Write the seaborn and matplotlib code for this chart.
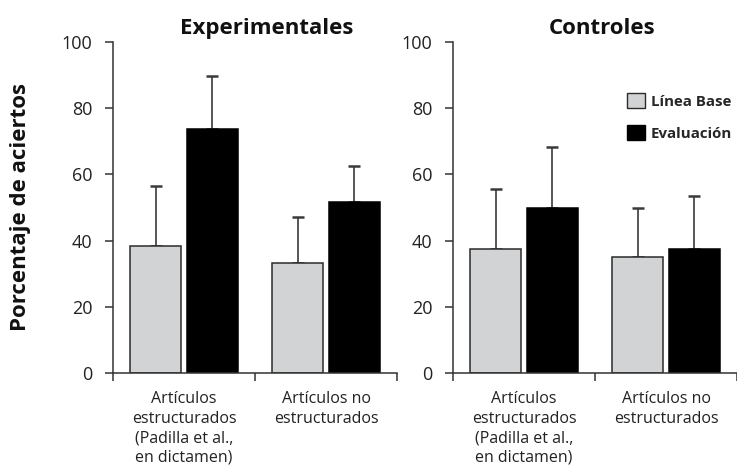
import matplotlib
matplotlib.use("Agg")
import matplotlib.pyplot as plt
from matplotlib.patches import Patch
import seaborn as sns
import pandas as pd

sns.set_style("ticks")
plt.rcParams['font.family'] = ['Open Sans', 'DejaVu Sans']

categories = ["Artículos\nestructurados\n(Padilla et al.,\nen dictamen)",
              "Artículos no\nestructurados"]
phases = ["Línea Base", "Evaluación"]
groups = ["Experimentales", "Controles"]

# means and upward error (SD) per category
exp_base = [38.5, 33.3]
exp_eval = [73.6, 51.7]
exp_base_err = [18.1, 13.8]
exp_eval_err = [16.0, 10.9]

ctl_base = [37.5, 35.0]
ctl_eval = [49.9, 37.5]
ctl_base_err = [18.2, 15.0]
ctl_eval_err = [18.3, 16.1]

yticks = [0, 20, 40, 60, 80, 100]

panels = {
    "Experimentales": (exp_base, exp_eval, exp_base_err, exp_eval_err),
    "Controles": (ctl_base, ctl_eval, ctl_base_err, ctl_eval_err),
}

colors = {"Línea Base": "#d2d3d5", "Evaluación": "#000000"}
edges = {"Línea Base": "#2b2b2b", "Evaluación": "#000000"}
spine_c = "#333333"

fig = plt.figure(figsize=(7.37, 4.75), dpi=100)
W, H = 737, 475
positions = [(113, 42, 284, 331), (453, 42, 284, 331)]
title_x = [0.542, 0.525]

for i, g in enumerate(groups):
    x0, y0, w, h = positions[i]
    ax = fig.add_axes([x0 / W, 1 - (y0 + h) / H, w / W, h / H])
    base, ev, be, ee = panels[g]
    df = pd.DataFrame({
        "cat": categories * 2,
        "phase": [phases[0]] * 2 + [phases[1]] * 2,
        "val": base + ev,
        "err": be + ee,
    })
    sns.barplot(data=df, x="cat", y="val", hue="phase", order=categories,
                hue_order=phases, palette=colors, gap=0.1, width=0.8,
                errorbar=None, ax=ax, legend=False, linewidth=1.1,
                edgecolor="black")
    bars = [p for p in ax.patches]
    for p, (_, row) in zip(bars, df.iterrows()):
        p.set_edgecolor(edges[row["phase"]])
        cx = p.get_x() + p.get_width() / 2
        ax.errorbar(cx, row["val"], yerr=[[0], [row["err"]]], fmt="none",
                    ecolor="#3a3a3a", elinewidth=1.2, capsize=4.4,
                    capthick=1.8, zorder=0)
    ax.set_xlim(-0.5, 1.5)
    ax.set_ylim(0, 100)
    ax.set_yticks(yticks)
    ax.set_xlabel("")
    ax.set_ylabel("")
    ax.set_xticks([0, 1])
    ax.set_xticklabels(categories, fontsize=11.5, linespacing=1.3)
    ax.set_xticks([-0.5, 0.5, 1.5], minor=True)
    ax.tick_params(axis="x", which="major", length=0, pad=13, colors="#222222")
    ax.tick_params(axis="x", which="minor", length=6, width=1.1, color=spine_c)
    ax.tick_params(axis="y", length=6, width=1.1, color=spine_c, pad=9,
                   labelsize=13, labelcolor="#222222")
    for s in ["top", "right"]:
        ax.spines[s].set_visible(False)
    for s in ["left", "bottom"]:
        ax.spines[s].set_color(spine_c)
        ax.spines[s].set_linewidth(1.1)
    ax.text(title_x[i], 1.01, g, transform=ax.transAxes, ha="center",
            va="bottom", fontsize=16, fontweight="bold", color="#111111")
    if i == 1:
        handles = [Patch(facecolor=colors[p], edgecolor=edges[p], linewidth=1.0)
                   for p in phases]
        ax.legend(handles, phases, loc="upper left",
                  bbox_to_anchor=(0.612, 0.846), frameon=False,
                  borderaxespad=0, borderpad=0,
                  handlelength=1.18, handleheight=1.18,
                  labelspacing=1.1, handletextpad=0.4,
                  prop={"weight": "bold", "size": 10.8})

fig.text(21 / W, 1 - 207 / H, "Porcentaje de aciertos", rotation=90,
         ha="center", va="center", fontsize=16, fontweight="bold",
         color="#111111")

fig.savefig("out.png", dpi=100)
